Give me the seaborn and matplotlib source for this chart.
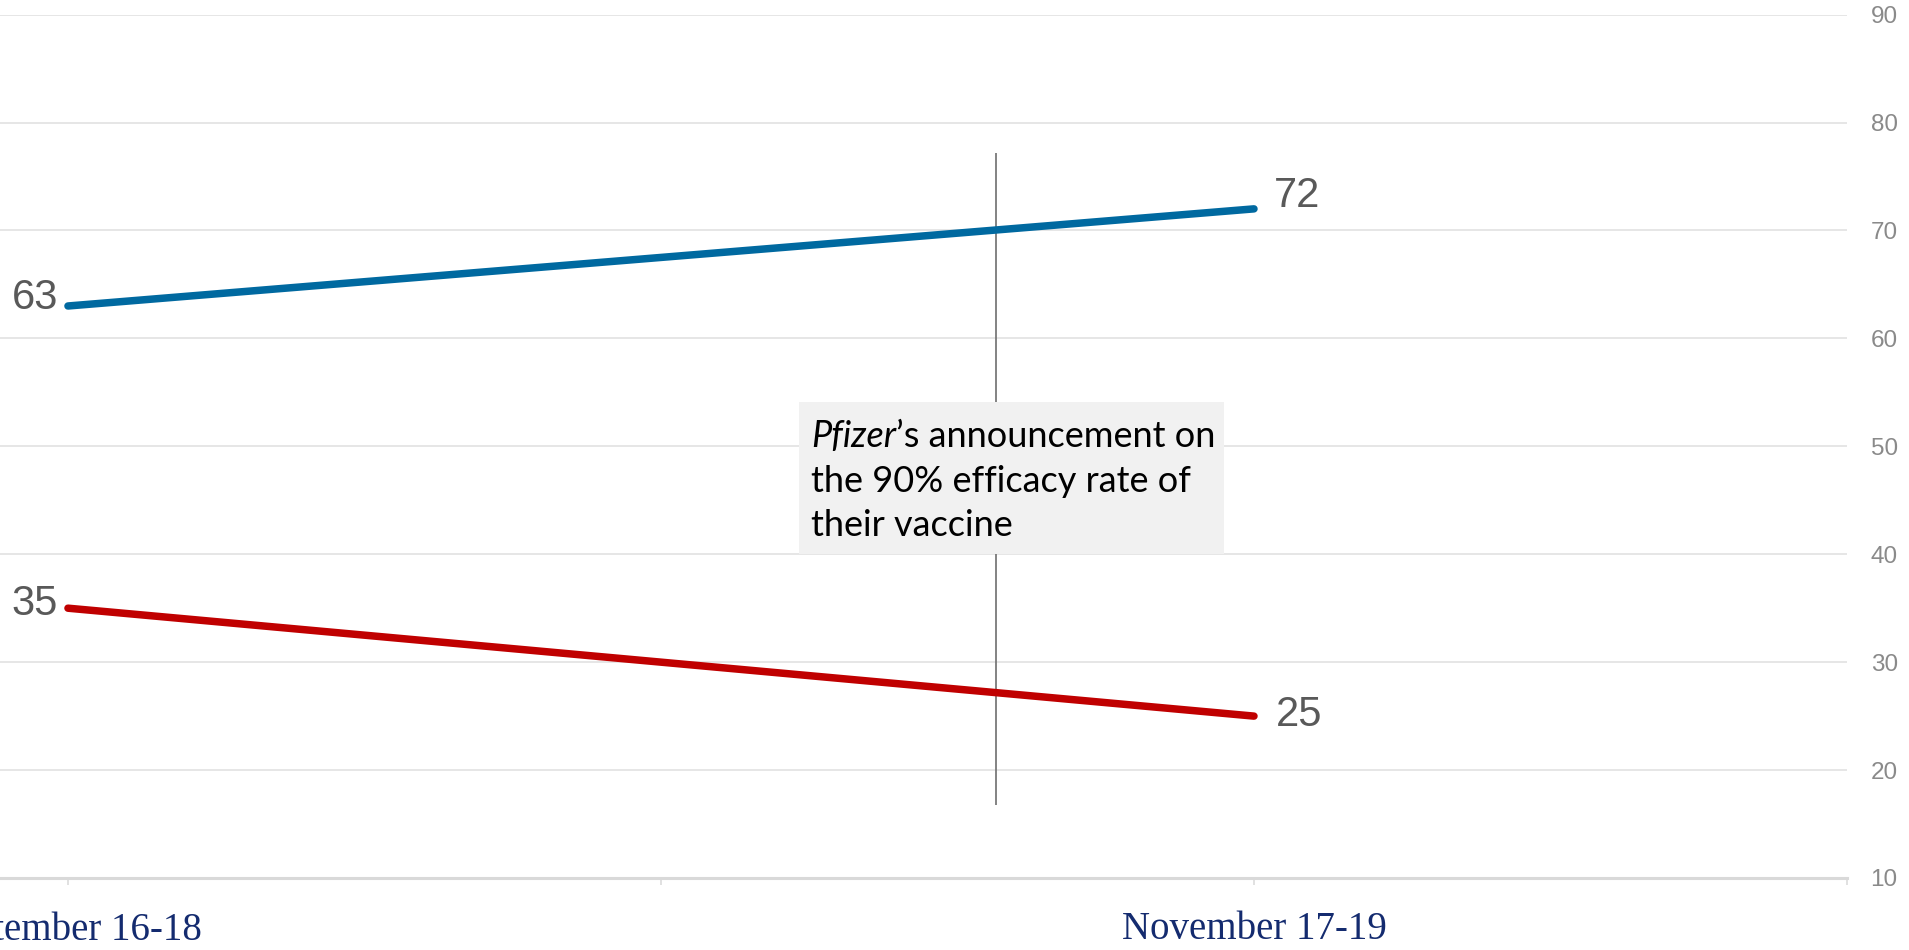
import matplotlib
matplotlib.use("Agg")
import matplotlib.pyplot as plt
import seaborn as sns
import pandas as pd
from matplotlib.patches import Rectangle
from matplotlib.transforms import offset_copy

# ---- data ----
period_pos = [0, 2]
series_1_values = [63, 72]
series_2_values = [35, 25]
series_names = ["series_1", "series_2"]
y_ticks = [10, 20, 30, 40, 50, 60, 70, 80, 90]
x_tick_positions = [0, 1, 2, 3]
x_tick_labels = ["September 16-18", "", "November 17-19", ""]
event_x = 1.565
note_italic = "Pfizer"
note_lines = ["\u2019s announcement on", "the 90% efficacy rate of", "their vaccine"]

df = pd.DataFrame({
    "x": period_pos * 2,
    "value": series_1_values + series_2_values,
    "series": [series_names[0]] * 2 + [series_names[1]] * 2,
})

sns.set_theme(style="white")
plt.rcParams["font.family"] = ["Liberation Sans", "DejaVu Sans"]

W, H = 1909, 950
fig = plt.figure(figsize=(W / 100, H / 100), dpi=100)
ax_left, ax_right, ax_top, ax_bot = 0, 1847, 14.6, 878
ax = fig.add_axes([ax_left / W, 1 - ax_bot / H, (ax_right - ax_left) / W, (ax_bot - ax_top) / H])

palette = {series_names[0]: "#0069A0", series_names[1]: "#C00000"}
sns.lineplot(data=df, x="x", y="value", hue="series", palette=palette, ax=ax,
             linewidth=5.4, legend=False, zorder=4)
for ln in ax.lines:
    ln.set_solid_capstyle("round")

ax.set_xlim(-0.1146, 3.0)
ax.set_ylim(10, 90)

# grid
ax.set_yticks(y_ticks)
ax.yaxis.grid(True, color="#E4E4E4", linewidth=1.3)
ax.xaxis.grid(False)
ax.yaxis.tick_right()
ax.tick_params(axis="y", length=0, pad=17, labelsize=17.5, labelcolor="#8A8A8A", right=False)
for s in ["top", "left", "right"]:
    ax.spines[s].set_visible(False)
ax.spines["bottom"].set_color("#D9D9D9")
ax.spines["bottom"].set_linewidth(2.2)

ax.set_xticks(x_tick_positions)
ax.set_xticklabels(x_tick_labels, fontfamily="Liberation Serif", fontsize=28, color="#142B6F")
ax.tick_params(axis="x", length=5, width=1.1, color="#D9D9D9", pad=19, bottom=True)
ax.set_xlabel("")
ax.set_ylabel("")

# event marker
ax.vlines(event_x, 16.8, 77.2, color="#6E6E6E", linewidth=1.2, zorder=2)

# value labels
label_offsets = [(-10, 8), (20, 13), (-10, 4), (22, 1)]
pts = list(zip(period_pos, series_1_values)) + list(zip(period_pos, series_2_values))
for (xv, yv), (dx, dy) in zip(pts, label_offsets):
    tr = offset_copy(ax.transData, fig=fig, x=dx, y=dy, units="dots")
    ax.text(xv, yv, f"{yv}", transform=tr, ha="right" if dx < 0 else "left", va="center",
            fontsize=30, color="#595959", zorder=5)

# annotation box
ax.add_patch(Rectangle((1.233, 40.0), 0.716, 14.1, facecolor="#F1F1F1", edgecolor="none", zorder=3))
note_font = dict(family=["Lato", "DejaVu Sans"], fontsize=26, color="#000000", zorder=6)
tx = 1.2536
baselines = [49.93, 45.75, 41.67]
t1 = ax.text(tx, baselines[0], note_italic, style="italic", va="baseline", ha="left", **note_font)
ax.annotate(note_lines[0], xy=(1, baselines[0]), xycoords=(t1, "data"), va="baseline", ha="left", **note_font)
ax.text(tx, baselines[1], note_lines[1], va="baseline", ha="left", **note_font)
ax.text(tx, baselines[2], note_lines[2], va="baseline", ha="left", **note_font)

fig.savefig("out.png", dpi=100, facecolor="white")
